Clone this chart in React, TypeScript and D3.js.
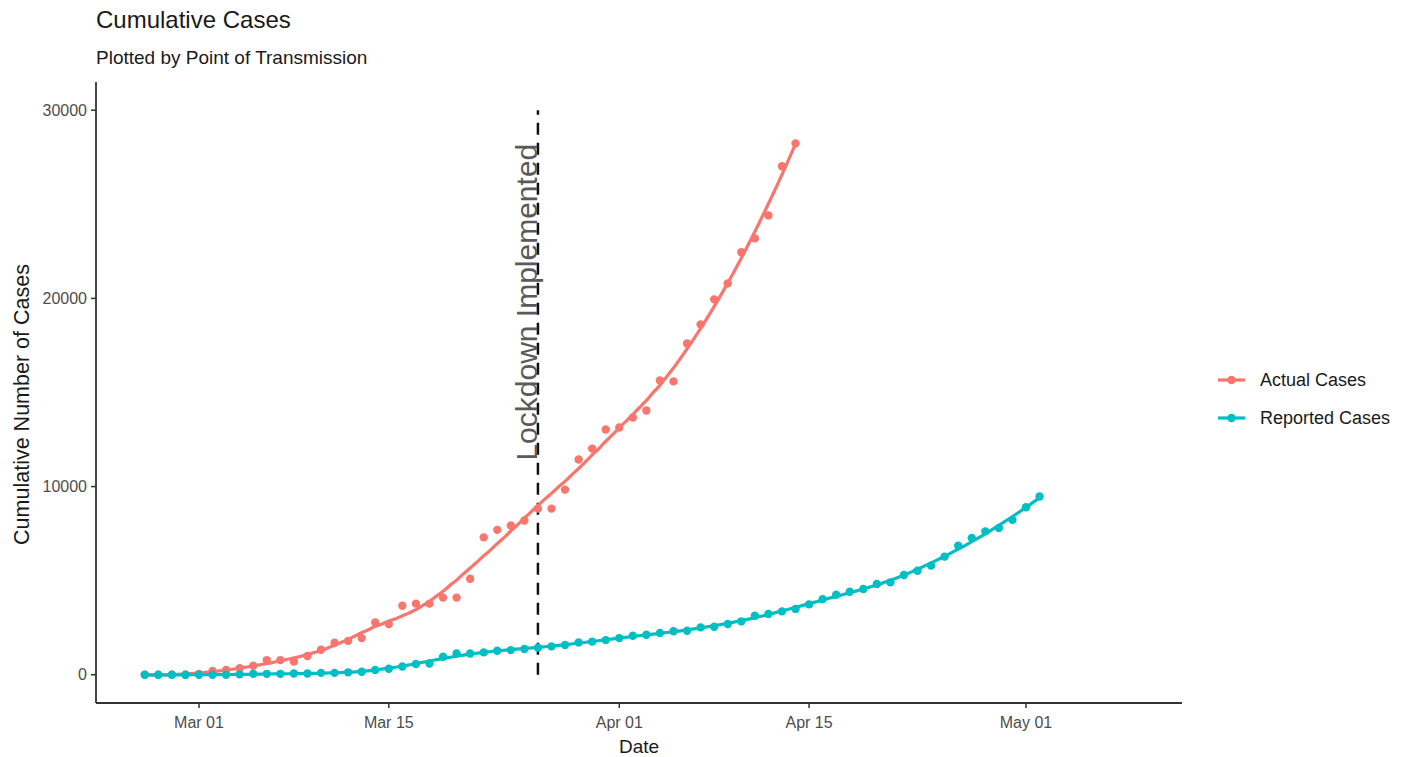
import React from 'react';
import * as d3 from 'd3';

// values, one per day
const actualStart = '2020-02-26';
const actualCases = [
  0, 0, 0, 0, 50, 200, 250, 350, 480, 780, 780, 700, 1000, 1330, 1700, 1800,
  1950, 2780, 2700, 3670, 3780, 3780, 4100, 4100, 5100, 7300, 7700, 7930, 8200,
  8830, 8830, 9840, 11440, 12020, 13030, 13140, 13670, 14040, 15640, 15590,
  17600, 18620, 19950, 20800, 22450, 23190, 24410, 27020, 28240,
];

const reportedStart = '2020-02-26';
const reportedCases = [
  0, 0, 0, 0, 0, 0, 0, 20, 50, 50, 50, 70, 70, 100, 100, 130, 160, 250, 320,
  440, 570, 600, 960, 1130, 1130, 1190, 1280, 1310, 1370, 1440, 1510, 1580,
  1720, 1760, 1840, 1950, 2070, 2130, 2220, 2310, 2340, 2520, 2550, 2700, 2840,
  3140, 3230, 3370, 3500, 3740, 4020, 4250, 4410, 4560, 4820, 4910, 5300, 5530,
  5800, 6280, 6860, 7270, 7620, 7800, 8230, 8900, 9470,
];

const xTicks = ['2020-03-01', '2020-03-15', '2020-04-01', '2020-04-15', '2020-05-01'];
const yTicks = [0, 10000, 20000, 30000];
const lockdownDate = '2020-03-26';
const seriesNames = ['Actual Cases', 'Reported Cases'];
const seriesColors = ['#F8766D', '#00BFC4'];
const smoothSpans = [0.4, 0.3];

const parse = d3.timeParse('%Y-%m-%d');
const toPoints = (start: string, vals: number[]) =>
  vals.map((v, i) => ({ date: d3.timeDay.offset(parse(start)!, i), value: v }));

// loess (degree 2, tricube weights)
function loess(pts: { date: Date; value: number }[], span = 0.75, nOut = 120) {
  const xs = pts.map(p => p.date.getTime() / 864e5);
  const ys = pts.map(p => p.value);
  const n = xs.length;
  const q = Math.floor(n * span);
  const x0s = d3.range(nOut).map(i => xs[0] + (i / (nOut - 1)) * (xs[n - 1] - xs[0]));
  return x0s.map(x0 => {
    const dist = xs.map(x => Math.abs(x - x0));
    const dmax = [...dist].sort((a, b) => a - b)[q - 1] * 1.0000001;
    const S = [[0, 0, 0], [0, 0, 0], [0, 0, 0]];
    const B = [0, 0, 0];
    xs.forEach((x, i) => {
      const u = dist[i] / dmax;
      if (u >= 1) return;
      const w = Math.pow(1 - u * u * u, 3);
      const t = x - x0;
      const f = [1, t, t * t];
      for (let r = 0; r < 3; r++) {
        B[r] += w * f[r] * ys[i];
        for (let c = 0; c < 3; c++) S[r][c] += w * f[r] * f[c];
      }
    });
    // gaussian elimination
    const M = S.map((row, r) => [...row, B[r]]);
    for (let c = 0; c < 3; c++) {
      let p = c;
      for (let r = c + 1; r < 3; r++) if (Math.abs(M[r][c]) > Math.abs(M[p][c])) p = r;
      [M[c], M[p]] = [M[p], M[c]];
      for (let r = c + 1; r < 3; r++) {
        const k = M[r][c] / M[c][c];
        for (let j = c; j < 4; j++) M[r][j] -= k * M[c][j];
      }
    }
    const sol = [0, 0, 0];
    for (let r = 2; r >= 0; r--) {
      let s = M[r][3];
      for (let j = r + 1; j < 3; j++) s -= M[r][j] * sol[j];
      sol[r] = s / M[r][r];
    }
    return { date: new Date(x0 * 864e5), value: sol[0] };
  });
}

const FONT = '"Liberation Sans", Arial, sans-serif';

export default function App() {
  const width = 1408;
  const height = 757;
  const left = 96, right = 1182, top = 82, bottom = 703;

  // Mar 01 sits at x=199, May 01 at x=1026 in the reference
  const ref = d3.scaleTime().domain([parse('2020-03-01')!, parse('2020-05-01')!]).range([199, 1026]);
  const x = d3.scaleTime().domain([ref.invert(left), ref.invert(right)]).range([left, right]);
  const y = d3.scaleLinear().domain([-1500, 31500]).range([bottom, top]);

  const series = [toPoints(actualStart, actualCases), toPoints(reportedStart, reportedCases)];
  const line = d3.line<{ date: Date; value: number }>()
    .x(d => x(d.date))
    .y(d => y(d.value))
    .curve(d3.curveMonotoneX);

  const lx = x(parse(lockdownDate)!);
  const fmt = d3.timeFormat('%b %d');

  return (
    <svg width={width} height={height} style={{ position: 'absolute', left: 0, top: 0, background: '#fff' }} fontFamily={FONT}>
      <text x={96} y={28} fontSize={24} fill="#1a1a1a">Cumulative Cases</text>
      <text x={96} y={64} fontSize={19} fill="#1a1a1a">Plotted by Point of Transmission</text>

      {/* lockdown marker */}
      <line x1={lx} x2={lx} y1={y(0)} y2={y(30000)} stroke="#111" strokeWidth={2.5} strokeDasharray="12 8" />
      <text transform={`translate(${lx - 1},${y(19800)}) rotate(-90)`} textAnchor="middle" fontSize={30} fill="#5a5a5a">
        Lockdown Implemented
      </text>

      {series.map((pts, i) => (
        <g key={seriesNames[i]}>
          {pts.map((p, j) => (
            <circle key={j} cx={x(p.date)} cy={y(p.value)} r={4.2} fill={seriesColors[i]} />
          ))}
          <path d={line(loess(pts, smoothSpans[i])) || ''} fill="none" stroke={seriesColors[i]} strokeWidth={3.2} />
        </g>
      ))}

      {/* axes */}
      <line x1={left} x2={left} y1={top} y2={bottom} stroke="#333" strokeWidth={1.8} />
      <line x1={left} x2={right} y1={bottom} y2={bottom} stroke="#333" strokeWidth={1.8} />
      {yTicks.map(t => (
        <g key={t}>
          <line x1={left - 5} x2={left} y1={y(t)} y2={y(t)} stroke="#333" strokeWidth={1.5} />
          <text x={left - 9} y={y(t)} dy="0.35em" textAnchor="end" fontSize={16} fill="#4d4d4d">{t}</text>
        </g>
      ))}
      {xTicks.map(t => {
        const d = parse(t)!;
        return (
          <g key={t}>
            <line x1={x(d)} x2={x(d)} y1={bottom} y2={bottom + 5} stroke="#333" strokeWidth={1.5} />
            <text x={x(d)} y={bottom + 25} textAnchor="middle" fontSize={16} fill="#4d4d4d">{fmt(d)}</text>
          </g>
        );
      })}
      <text x={(left + right) / 2} y={753} textAnchor="middle" fontSize={19} fill="#1a1a1a">Date</text>
      <text transform={`translate(29,${(top + bottom) / 2 + 12}) rotate(-90)`} textAnchor="middle" fontSize={21.5} fill="#1a1a1a">
        Cumulative Number of Cases
      </text>

      {/* legend */}
      {seriesNames.map((name, i) => {
        const ly = 380 + i * 38;
        return (
          <g key={name}>
            <line x1={1218} x2={1245} y1={ly} y2={ly} stroke={seriesColors[i]} strokeWidth={3.2} />
            <circle cx={1231.5} cy={ly} r={4.2} fill={seriesColors[i]} />
            <text x={1260} y={ly} dy="0.35em" fontSize={18} fill="#1a1a1a">{name}</text>
          </g>
        );
      })}
    </svg>
  );
}
